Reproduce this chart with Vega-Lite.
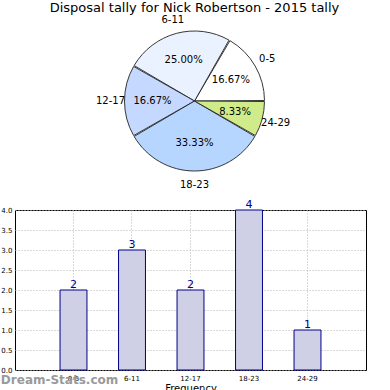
{
  "$schema": "https://vega.github.io/schema/vega-lite/v6.json",
  "padding": {"left": 0, "top": 1, "right": 0, "bottom": 0},
  "background": "white",
  "data": {"values": [
    {"range": "0-5", "count": 2, "pct": "16.67%"},
    {"range": "6-11", "count": 3, "pct": "25.00%"},
    {"range": "12-17", "count": 2, "pct": "16.67%"},
    {"range": "18-23", "count": 4, "pct": "33.33%"},
    {"range": "24-29", "count": 1, "pct": "8.33%"}
  ]},
  "config": {
    "font": "DejaVu Sans",
    "view": {"stroke": null},
    "title": {"font": "DejaVu Sans", "fontWeight": "normal"}
  },
  "spacing": 8,
  "vconcat": [
    {
      "width": 359,
      "height": 172,
      "title": {"text": "Disposal tally for Nick Robertson - 2015 tally", "fontSize": 13, "color": "black", "anchor": "middle", "offset": 0},
      "transform": [{"window": [{"op": "row_number", "as": "i"}]}],
      "encoding": {
        "theta": {"field": "count", "type": "quantitative", "stack": true, "scale": {"range": [1.5708, -4.7124]}},
        "order": {"field": "i", "type": "quantitative"}
      },
      "layer": [
        {"mark": {"type": "arc", "outerRadius": 70, "stroke": "#222222", "strokeWidth": 0.9, "padAngle": 0.015},
         "encoding": {"color": {"field": "range", "type": "nominal", "sort": null, "legend": null,
          "scale": {"domain": ["0-5", "6-11", "12-17", "18-23", "24-29"], "range": ["#ffffff", "#ebf2ff", "#c5d8ff", "#b7d6ff", "#d0ec8a"]}}}},
        {"mark": {"type": "text", "radius": 42, "fontSize": 10, "color": "black"}, "encoding": {"text": {"field": "pct"}}},
        {"mark": {"type": "text", "radius": 84, "fontSize": 10, "color": "black"}, "encoding": {"text": {"field": "range"}}}
      ]
    },
    {
      "width": 351,
      "height": 160,
      "view": {"stroke": "black", "strokeWidth": 1},
      "title": {"text": "Dream-Stats.com", "orient": "bottom", "anchor": "start", "frame": "bounds", "fontSize": 12, "fontWeight": 600, "color": "#9a9a9a", "offset": -18},
      "encoding": {
        "x": {"field": "range", "type": "nominal", "sort": null,
          "scale": {"paddingInner": 0.54, "paddingOuter": 0.77},
          "axis": {"labelAngle": 0, "title": "Frequency", "titleFontSize": 10, "titleFontWeight": "normal", "titlePadding": 2,
            "labelFontSize": 7, "labelColor": "black", "grid": true, "gridDash": [1, 2], "gridColor": "#b4b4b4", "bandPosition": 0.5,
            "domain": false, "ticks": false, "labelPadding": 4}},
        "y": {"field": "count", "type": "quantitative",
          "scale": {"domain": [0, 4], "nice": false},
          "axis": {"title": null, "values": [0, 0.5, 1, 1.5, 2, 2.5, 3, 3.5, 4], "format": ".1f", "labelFontSize": 7, "labelColor": "black",
            "grid": true, "gridDash": [1, 2], "gridColor": "#b4b4b4", "domain": false, "ticks": false, "labelPadding": 3}}
      },
      "layer": [
        {"mark": {"type": "bar", "fill": "#cfcfe6", "stroke": "#00008b", "strokeWidth": 1}},
        {"mark": {"type": "text", "baseline": "bottom", "dy": 0, "fontSize": 11, "color": "#00008b"}, "encoding": {"text": {"field": "count"}}}
      ]
    }
  ]
}
